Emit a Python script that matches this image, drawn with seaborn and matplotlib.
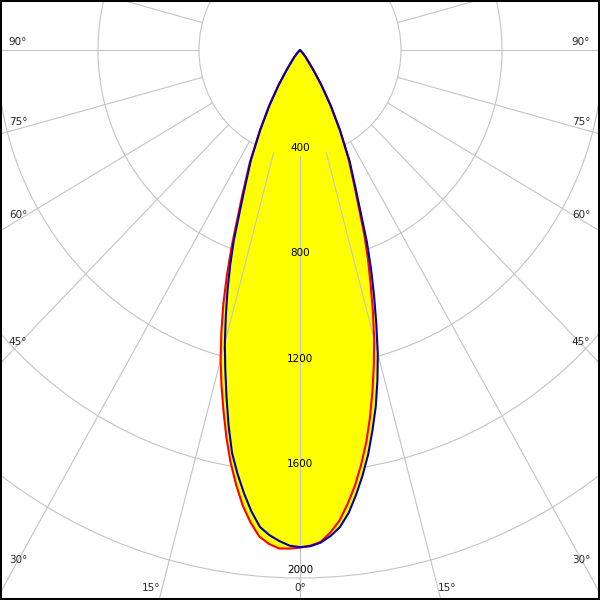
import numpy as np
import pandas as pd
import matplotlib
matplotlib.use("Agg")
import matplotlib.pyplot as plt
import seaborn as sns
from matplotlib.patches import Rectangle

# polar intensity curve (cd/klm), angles from nadir
angles = [0, 1.25, 2.5, 3.75, 5, 6.25, 7.5, 8.75, 10, 11.25, 12.5, 13.75, 15, 16.25, 17.5, 18.75, 20,
          22.5, 25, 27.5, 30, 32.5, 35, 40, 45, 50, 60, 70, 80, 90]
red_c180 = [1885, 1889, 1890, 1875, 1850, 1800, 1740, 1665, 1585, 1495, 1400, 1308, 1215, 1113, 1010, 900, 790,
            600, 470, 345, 245, 160, 95, 40, 12, 0, 0, 0, 0, 0]
red_c0 = [1885, 1878, 1865, 1832, 1790, 1730, 1665, 1590, 1510, 1420, 1325, 1230, 1135, 1032, 930, 838, 745,
          570, 455, 340, 240, 155, 90, 35, 10, 0, 0, 0, 0, 0]
blue_c270 = [1883, 1878, 1862, 1842, 1814, 1760, 1695, 1625, 1550, 1450, 1345, 1245, 1150, 1050, 955, 860, 765,
             580, 460, 340, 242, 158, 90, 35, 10, 0, 0, 0, 0, 0]
blue_c90 = [1883, 1880, 1868, 1845, 1814, 1765, 1700, 1630, 1555, 1470, 1385, 1290, 1190, 1080, 975, 875, 775,
            585, 465, 345, 245, 160, 92, 36, 10, 0, 0, 0, 0, 0]

ring_values = [400, 800, 1200, 1600, 2000, 2400]
ring_labels = ["400", "800", "1200", "1600", "2000"]

# angle labels: text, x px, y px
side_labels = ["90°", "75°", "60°", "45°", "30°"]
side_label_y = [42, 122, 215, 342, 560]
bottom_labels = ["15°", "0°", "15°"]
bottom_label_x = [151, 300, 447]

sns.set_style("white")
plt.rcParams["font.family"] = ["DejaVu Sans"]


def full_curve(left, right):
    th = [-a for a in angles[::-1]] + angles[1:]
    r = left[::-1] + right[1:]
    return pd.DataFrame({"theta": np.deg2rad(th), "r": r})


red = full_curve(red_c180, red_c0)
blue = full_curve(blue_c270, blue_c90)

fig = plt.figure(figsize=(6, 6), dpi=100)
# centre of diagram at (300, 50) px, 101 px per 400 horizontally, 105.6 vertically
rmax = 2400
hw = rmax * 101 / 400
hh = rmax * 105.6 / 400
ax = fig.add_axes([(300 - hw) / 600, (550 - hh) / 600, 2 * hw / 600, 2 * hh / 600],
                  projection="polar")
ax.set_aspect("auto")
ax.set_theta_zero_location("S")
ax.set_ylim(0, rmax)
ax.spines["polar"].set_visible(False)
ax.set_xticks([])
ax.set_yticks(ring_values)
ax.set_yticklabels([])
ax.yaxis.grid(True, color="#c4c4c4", lw=0.8)

# spokes start at the 400 ring
for a in range(0, 360, 15):
    t = np.deg2rad(a)
    ax.plot([t, t], [400, rmax], color="#c4c4c4", lw=0.8, zorder=1.5)

ax.fill(red["theta"], red["r"], color="#ffff00", zorder=1)
ax.fill(blue["theta"], blue["r"], color="#ffff00", zorder=1)
sns.lineplot(data=red, x="theta", y="r", sort=False, estimator=None, color="#ff0000", lw=1.5, ax=ax)
sns.lineplot(data=blue, x="theta", y="r", sort=False, estimator=None, color="#0000b0", lw=1.5, ax=ax)
ax.set_xlabel("")
ax.set_ylabel("")

for v, lab in zip(ring_values, ring_labels):
    ax.text(0, v - 30, lab, ha="center", va="center", fontsize=7.5, color="black")

for lab, y in zip(side_labels, side_label_y):
    fig.text(18 / 600, 1 - y / 600, lab, ha="center", va="center", fontsize=7.5)
    fig.text(581 / 600, 1 - y / 600, lab, ha="center", va="center", fontsize=7.5)
for lab, x in zip(bottom_labels, bottom_label_x):
    fig.text(x / 600, 1 - 588 / 600, lab, ha="center", va="center", fontsize=7.5)

fig.patches.append(Rectangle((0, 0), 1, 1, transform=fig.transFigure, fill=False,
                             ec="black", lw=2.9, zorder=10))

fig.savefig("out.png", dpi=100, facecolor="white")
